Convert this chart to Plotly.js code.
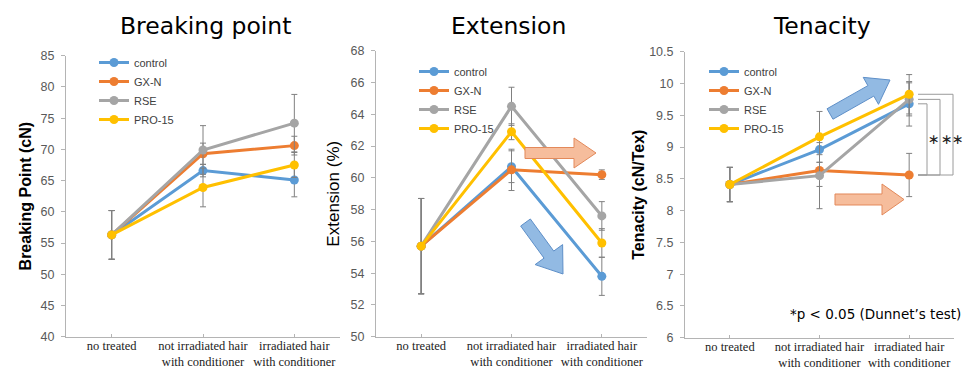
<!DOCTYPE html>
<html>
<head>
<meta charset="utf-8">
<script src="https://cdn.plot.ly/plotly-3.0.1.min.js"></script>
<style>html,body{margin:0;padding:0;background:#fff;}#chart{width:965px;height:370px;}</style>
</head>
<body>
<div id="chart"></div>
<script>
// ---------- data ----------
const categories = ['no treated', 'not irradiated hair with conditioner', 'irradiated hair with conditioner'];
const tickLabels = ['no treated', 'not irradiated hair<br>with conditioner', 'irradiated hair<br>with conditioner'];
const seriesNames = ['control', 'GX-N', 'RSE', 'PRO-15'];

// Breaking point (cN)
const bpControl = [56.3, 66.6, 65.1];
const bpGXN     = [56.3, 69.3, 70.6];
const bpRSE     = [56.3, 69.9, 74.2];
const bpPRO     = [56.3, 63.9, 67.5];
const bpErrControl = [3.9, 1.0, 2.7];
const bpErrGXN     = [3.9, 1.7, 1.5];
const bpErrRSE     = [3.9, 3.9, 4.6];
const bpErrPRO     = [3.9, 3.1, 2.0];

// Extension (%)
const exControl = [55.7, 60.7, 53.8];
const exGXN     = [55.7, 60.5, 60.2];
const exRSE     = [55.7, 64.5, 57.6];
const exPRO     = [55.7, 62.9, 55.9];
const exErrControl = [3.0, 1.0, 1.2];
const exErrGXN     = [3.0, 1.3, 0.3];
const exErrRSE     = [3.0, 1.2, 0.9];
const exErrPRO     = [3.0, 0.5, 0.9];

// Tenacity (cN/Tex)
const teControl = [8.41, 8.96, 9.68];
const teGXN     = [8.41, 8.63, 8.56];
const teRSE     = [8.41, 8.55, 9.75];
const tePRO     = [8.41, 9.16, 9.83];
const teErrControl = [0.27, 0.20, 0.35];
const teErrGXN     = [0.27, 0.25, 0.34];
const teErrRSE     = [0.27, 0.52, 0.26];
const teErrPRO     = [0.27, 0.40, 0.31];

// ---------- styling / layout ----------
const colors = ['#5B9BD5', '#ED7D31', '#A5A5A5', '#FFC000'];
const W = 965, H = 370;
const fx = px => px / W;
const fy = py => 1 - py / H;

const panels = [
  {vals: [bpControl, bpGXN, bpRSE, bpPRO], errs: [bpErrControl, bpErrGXN, bpErrRSE, bpErrPRO], xa: 'x', ya: 'y', legend: 'legend'},
  {vals: [exControl, exGXN, exRSE, exPRO], errs: [exErrControl, exErrGXN, exErrRSE, exErrPRO], xa: 'x2', ya: 'y2', legend: 'legend2'},
  {vals: [teControl, teGXN, teRSE, tePRO], errs: [teErrControl, teErrGXN, teErrRSE, teErrPRO], xa: 'x3', ya: 'y3', legend: 'legend3'}
];

const traces = [];
panels.forEach(p => {
  seriesNames.forEach((name, i) => {
    traces.push({
      type: 'scatter', mode: 'lines+markers', name: name,
      x: categories, y: p.vals[i],
      xaxis: p.xa, yaxis: p.ya, legend: p.legend,
      line: {color: colors[i], width: 3},
      marker: {color: colors[i], size: 9},
      error_y: {type: 'data', array: p.errs[i], visible: true, color: '#808080', thickness: 1, width: 3}
    });
  });
});

function xAxis(x0, x1, anchor) {
  return {
    domain: [fx(x0), fx(x1)], anchor: anchor, type: 'category', range: [-0.5, 2.5],
    showline: true, linecolor: '#b4b4b4', linewidth: 1, mirror: false,
    ticks: 'inside', ticklen: 3, tickcolor: '#b4b4b4', ticklabelstandoff: -3,
    tickvals: categories, ticktext: tickLabels,
    tickfont: {family: '"Liberation Serif", "Times New Roman", serif', size: 12.5, color: '#222222'},
    showgrid: false, zeroline: false, fixedrange: true
  };
}
function yAxis(top, bottom, anchor, range, dtick, title, bold, tsize, standoff) {
  return {
    domain: [fy(bottom), fy(top)], anchor: anchor, range: range, dtick: dtick,
    showline: true, linecolor: '#b4b4b4', linewidth: 1,
    ticks: 'outside', ticklen: 4, tickcolor: '#b4b4b4', ticklabelstandoff: 4,
    tickfont: {family: 'Arial, "Liberation Sans", sans-serif', size: 12.5, color: '#595959'},
    showgrid: false, zeroline: false, fixedrange: true, automargin: false,
    title: {text: title, standoff: standoff,
      font: {family: 'Arial, "Liberation Sans", sans-serif', size: tsize, color: '#000000', weight: bold ? 'bold' : 'normal'}}
  };
}

function legendAt(px, py) {
  return {
    x: fx(px), y: fy(py), xanchor: 'left', yanchor: 'top',
    bgcolor: 'rgba(0,0,0,0)', borderwidth: 0, itemwidth: 30, tracegroupgap: 0,
    font: {family: 'Arial, "Liberation Sans", sans-serif', size: 11, color: '#404040'}
  };
}

function arrowPath(tx, ty, hx, hy, sw, hw, hl) {
  const dx = hx - tx, dy = hy - ty, L = Math.hypot(dx, dy);
  const ux = dx / L, uy = dy / L, nx = -uy, ny = ux;
  const bx = hx - ux * hl, by = hy - uy * hl;
  const pts = [
    [tx + nx * sw, ty + ny * sw], [bx + nx * sw, by + ny * sw], [bx + nx * hw, by + ny * hw],
    [hx, hy],
    [bx - nx * hw, by - ny * hw], [bx - nx * sw, by - ny * sw], [tx - nx * sw, ty - ny * sw]
  ];
  return 'M' + pts.map(p => fx(p[0]).toFixed(5) + ',' + fy(p[1]).toFixed(5)).join(' L') + ' Z';
}

const blueFill = '#92BAE3', blueLine = '#5E8FC8';
const orangeFill = '#F6BD9C', orangeLine = '#E3895A';

const shapes = [
  {type: 'path', xref: 'paper', yref: 'paper', path: arrowPath(525, 153, 596, 153, 5.5, 15, 22), fillcolor: orangeFill, line: {color: orangeLine, width: 1}, layer: 'above'},
  {type: 'path', xref: 'paper', yref: 'paper', path: arrowPath(525.5, 222.5, 563, 274, 6, 17, 24), fillcolor: blueFill, line: {color: blueLine, width: 1}, layer: 'above'},
  {type: 'path', xref: 'paper', yref: 'paper', path: arrowPath(830, 114, 890, 80, 6, 15.5, 22), fillcolor: blueFill, line: {color: blueLine, width: 1}, layer: 'above'},
  {type: 'path', xref: 'paper', yref: 'paper', path: arrowPath(835, 199.5, 904, 199.5, 5.5, 15.5, 22), fillcolor: orangeFill, line: {color: orangeLine, width: 1}, layer: 'above'}
];

// significance brackets (tenacity, irradiated hair): GX-N vs control / RSE / PRO-15
const bracketTops = [teControl[2], teRSE[2], tePRO[2]];
const bracketX = [927, 940, 953];
bracketTops.forEach((top, k) => {
  const x0 = fx(918), x1 = fx(bracketX[k]);
  shapes.push({type: 'path', xref: 'paper', yref: 'y3',
    path: `M${x0},${top} L${x1},${top} L${x1},${teGXN[2]} L${x0},${teGXN[2]}`,
    line: {color: '#9a9a9a', width: 1}, layer: 'above'});
});

const titleFont = {family: '"DejaVu Sans", Verdana, sans-serif', size: 23.5, color: '#000000'};
const annotations = [
  {text: 'Breaking point', x: fx(205), y: fy(26), xref: 'paper', yref: 'paper', showarrow: false, xanchor: 'center', yanchor: 'middle', font: titleFont},
  {text: 'Extension', x: fx(508), y: fy(26), xref: 'paper', yref: 'paper', showarrow: false, xanchor: 'center', yanchor: 'middle', font: titleFont},
  {text: 'Tenacity', x: fx(822), y: fy(26), xref: 'paper', yref: 'paper', showarrow: false, xanchor: 'center', yanchor: 'middle', font: titleFont},
  {text: '*p < 0.05 (Dunnet\u2019s test)', x: fx(875), y: fy(314), xref: 'paper', yref: 'paper', showarrow: false, xanchor: 'center', yanchor: 'middle',
    font: {family: '"DejaVu Sans", Verdana, sans-serif', size: 13.5, color: '#000000'}}
];
[934, 947].forEach(px => {
  annotations.push({text: '\u2217', x: fx(px), y: fy(139), xref: 'paper', yref: 'paper', showarrow: false, xanchor: 'center', yanchor: 'middle',
    borderpad: 0, font: {family: '"DejaVu Sans", sans-serif', size: 14, color: '#222222'}});
});
annotations.push({text: '\u2217', x: 1, y: fy(139), xref: 'paper', yref: 'paper', showarrow: false, xanchor: 'right', yanchor: 'middle',
  borderpad: 0, font: {family: '"DejaVu Sans", sans-serif', size: 14, color: '#222222'}});

const layout = {
  width: W, height: H,
  margin: {l: 0, r: 0, t: 0, b: 0, pad: 0},
  paper_bgcolor: '#ffffff', plot_bgcolor: '#ffffff',
  showlegend: true,
  xaxis: xAxis(66, 340, 'y'),
  yaxis: yAxis(55.7, 336.7, 'x', [40, 85], 5, 'Breaking Point (cN)', true, 16, 4),
  xaxis2: xAxis(376, 647, 'y2'),
  yaxis2: yAxis(50.7, 336.7, 'x2', [50, 68], 2, 'Extension (%)', false, 17, 6),
  xaxis3: xAxis(685, 954, 'y3'),
  yaxis3: yAxis(51.7, 337.7, 'x3', [6, 10.5], 0.5, 'Tenacity (cN/Tex)', true, 16, 0),
  legend: legendAt(94, 48),
  legend2: legendAt(414, 57),
  legend3: legendAt(704, 57),
  shapes: shapes,
  annotations: annotations
};

Plotly.newPlot('chart', traces, layout, {staticPlot: true, displayModeBar: false});
</script>
</body>
</html>
